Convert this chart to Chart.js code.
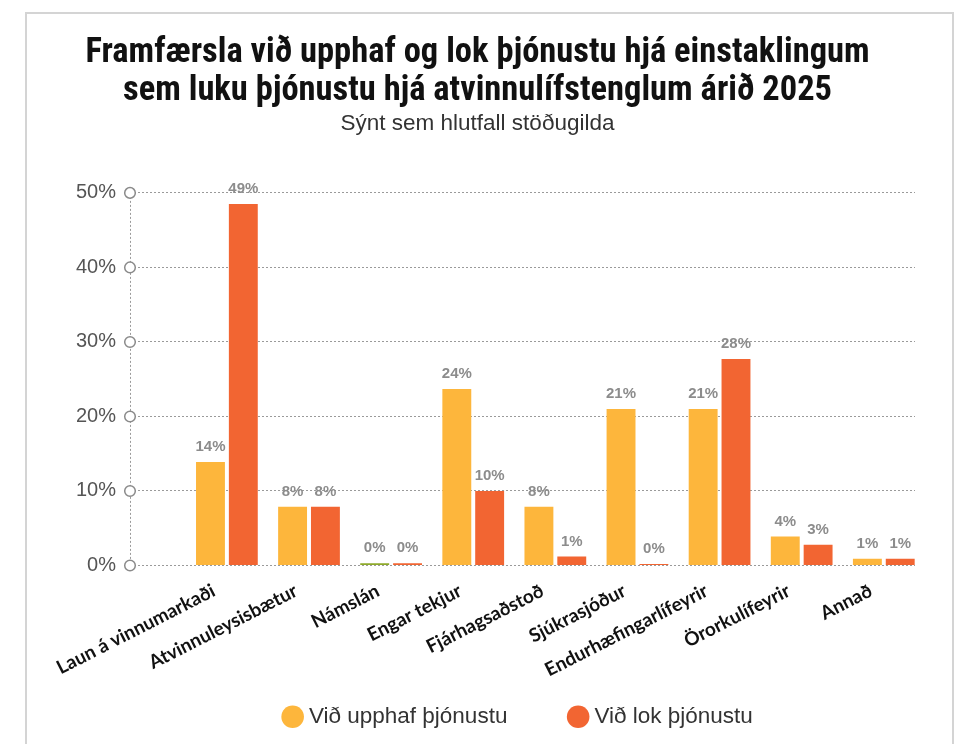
<!DOCTYPE html>
<html><head><meta charset="utf-8">
<script src="https://cdn.jsdelivr.net/npm/chart.js@4.4.1/dist/chart.umd.min.js"></script>
<style>
html,body{margin:0;padding:0;background:#fff;}
#wrap{position:relative;width:969px;height:744px;overflow:hidden;}
#frame{position:absolute;left:25px;top:12px;width:929px;height:780px;border:2px solid #d4d4d4;box-sizing:border-box;}
canvas{position:absolute;left:0;top:0;}
</style></head><body>
<div id="wrap"><div id="frame"></div><canvas id="c" width="969" height="744"></canvas></div>
<script>
const categories = ['Laun á vinnumarkaði','Atvinnuleysisbætur','Námslán','Engar tekjur','Fjárhagsaðstoð','Sjúkrasjóður','Endurhæfingarlífeyrir','Örorkulífeyrir','Annað'];
const upphaf = [13.9, 7.9, 0.3, 23.7, 7.9, 21.0, 21.0, 3.9, 0.9];
const lok = [48.5, 7.9, 0.3, 10.0, 1.2, 0.2, 27.7, 2.8, 0.9];
const seriesNames = ['Við upphaf þjónustu','Við lok þjónustu'];
const yTickValues = [0, 10, 20, 30, 40, 50];
const titleLines = ['Framfærsla við upphaf og lok þjónustu hjá einstaklingum','sem luku þjónustu hjá atvinnulífstenglum árið 2025'];
const subtitleText = 'Sýnt sem hlutfall stöðugilda';

const YELLOW = '#FDB63C', ORANGE = '#F26532', GREEN = '#8EAA2A';
const upphafColors = categories.map((c, i) => c === 'Námslán' ? GREEN : YELLOW);

const axisPlugin = {
  id: 'axisDeco',
  afterDraw(chart) {
    const ctx = chart.ctx, ys = chart.scales.y, x = chart.chartArea.left;
    ctx.save();
    ctx.strokeStyle = '#9a9a9a'; ctx.lineWidth = 1; ctx.setLineDash([2, 2]);
    ctx.beginPath();
    ctx.moveTo(x + 0.5, ys.getPixelForValue(yTickValues[yTickValues.length - 1]));
    ctx.lineTo(x + 0.5, ys.getPixelForValue(yTickValues[0]));
    ctx.stroke();
    ctx.setLineDash([]);
    yTickValues.forEach(v => {
      const y = ys.getPixelForValue(v);
      ctx.beginPath(); ctx.arc(x, y, 5.3, 0, Math.PI * 2);
      ctx.fillStyle = '#fff'; ctx.fill();
      ctx.strokeStyle = '#8a8a8a'; ctx.lineWidth = 1.5; ctx.stroke();
    });
    ctx.restore();
  }
};
const labelPlugin = {
  id: 'barLabels',
  afterDatasetsDraw(chart) {
    const ctx = chart.ctx;
    ctx.save();
    ctx.font = 'bold 15px "Liberation Sans", Arial, sans-serif';
    ctx.fillStyle = '#8c8c8c'; ctx.textAlign = 'center'; ctx.textBaseline = 'middle';
    chart.data.datasets.forEach((ds, di) => {
      chart.getDatasetMeta(di).data.forEach((el, i) => {
        const v = ds.data[i].y;
        ctx.fillText(Math.round(v) + '%', el.x, el.y - 15);
      });
    });
    ctx.restore();
  }
};

new Chart(document.getElementById('c'), {
  type: 'bar',
  data: {
    datasets: [
      { label: seriesNames[0], data: categories.map((c, i) => ({x: i, y: upphaf[i]})), backgroundColor: upphafColors, borderWidth: 0 },
      { label: seriesNames[1], data: categories.map((c, i) => ({x: i, y: lok[i]})), backgroundColor: ORANGE, borderWidth: 0 }
    ]
  },
  options: {
    responsive: false, animation: false,
    categoryPercentage: 0.80, barPercentage: 0.88,
    layout: { padding: { left: 40, right: 54, top: 0, bottom: 6 } },
    plugins: {
      title: { display: true, text: titleLines, color: '#111',
        font: { family: '"Liberation Sans Narrow", "Arial Narrow", "Roboto Condensed", sans-serif', weight: 'bold', size: 34.5, lineHeight: 1.1 },
        padding: { top: 34, bottom: 0 } },
      subtitle: { display: true, text: subtitleText, color: '#333',
        font: { family: '"Liberation Sans Narrow", "Arial Narrow", sans-serif', size: 22.5 },
        padding: { top: 0, bottom: 56 } },
      legend: { position: 'bottom', fullSize: false,
        labels: { usePointStyle: true, pointStyle: 'circle', boxWidth: 10, boxHeight: 16, padding: 10, color: '#333',
          font: { family: '"Liberation Sans", Arial, sans-serif', size: 22.5 },
          generateLabels(chart) {
            const items = Chart.defaults.plugins.legend.labels.generateLabels(chart);
            items.forEach((it, i) => {
              const col = i === 0 ? YELLOW : ORANGE;
              it.fillStyle = col; it.strokeStyle = col; it.lineWidth = 0;
              if (i === 0) it.text = it.text + '\u2003\u2003 \u2009';
              else it.text = it.text + '\u2009';
            });
            return items;
          } } },
      tooltip: { enabled: false }
    },
    scales: {
      x: { type: 'linear', min: -1.18, max: 8.38, offset: false,
        afterBuildTicks: s => { s.ticks = categories.map((c, i) => ({ value: i })); },
        ticks: { autoSkip: false, minRotation: 27, maxRotation: 27, padding: 14, labelOffset: -13, color: '#111',
          font: { family: 'Lato, sans-serif', weight: 'bold', size: 19 },
          callback: v => categories[v] },
        grid: { display: false, drawTicks: false }, border: { display: false },
        afterFit: s => { s.height = 130; } },
      y: { min: 0, max: 50,
        afterBuildTicks: s => { s.ticks = yTickValues.map(v => ({ value: v })); },
        ticks: { padding: 14, color: '#555', font: { family: '"Liberation Sans", Arial, sans-serif', size: 20 }, callback: v => v + '%' },
        grid: { color: '#9a9a9a', lineWidth: 1, drawTicks: false },
        border: { display: false, dash: [2, 2] },
        afterFit: s => { s.width = 90; } }
    }
  },
  plugins: [axisPlugin, labelPlugin]
});
</script>
</body></html>
